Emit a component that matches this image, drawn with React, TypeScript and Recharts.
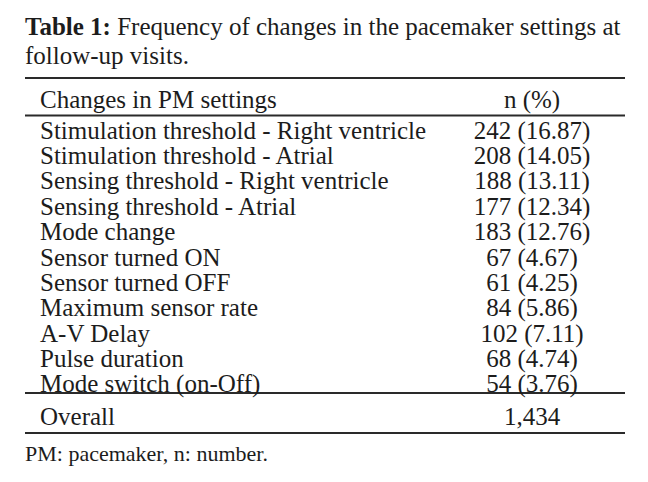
import React from "react";
import { BarChart, Bar, XAxis, YAxis, Customized } from "recharts";

const titleBold = "Table 1:";
const titleLines = [" Frequency of changes in the pacemaker settings at", "follow-up visits."];
const headerLabels = ["Changes in PM settings", "n (%)"];
const settings = [
  "Stimulation threshold - Right ventricle",
  "Stimulation threshold - Atrial",
  "Sensing threshold - Right ventricle",
  "Sensing threshold - Atrial",
  "Mode change",
  "Sensor turned ON",
  "Sensor turned OFF",
  "Maximum sensor rate",
  "A-V Delay",
  "Pulse duration",
  "Mode switch (on-Off)",
];
const counts = [242, 208, 188, 177, 183, 67, 61, 84, 102, 68, 54];
const percents = ["16.87", "14.05", "13.11", "12.34", "12.76", "4.67", "4.25", "5.86", "7.11", "4.74", "3.76"];
const overallLabel = "Overall";
const overallValue = "1,434";
const footnote = "PM: pacemaker, n: number.";

const rows = settings.map((s, i) => ({ setting: s, n: counts[i], pct: percents[i] }));

const W = 648;
const H = 482;
const TOP = 118;
const BOTTOM_EDGE = 397;
const FONT = "Liberation Serif";
const COLOR = "#1c1c1c";
const RULE = "#2a2a2a";
const LEFT = 25;
const RIGHT = 625;
const TEXT_X = 40;
const VAL_X = 532;
const FS = 25;

const txt = (size: number, extra: any = {}) => ({
  style: { fontFamily: FONT, fontSize: size },
  fill: COLOR,
  ...extra,
});

const RowTick = (props: any) => {
  const { y, payload, index } = props;
  const r = rows[index] || rows.find((d) => d.setting === payload.value);
  return (
    <g>
      <text x={TEXT_X} y={y} dy={8} {...txt(FS)} textAnchor="start">
        {payload.value}
      </text>
      {r && (
        <text x={VAL_X} y={y} dy={8} {...txt(FS)} textAnchor="middle">
          {`${r.n} (${r.pct})`}
        </text>
      )}
    </g>
  );
};

const Decor = () => (
  <g>
    <text x={LEFT} y={35} {...txt(25)}>
      <tspan fontWeight="bold">{titleBold}</tspan>
      <tspan>{titleLines[0]}</tspan>
    </text>
    <text x={LEFT} y={64} {...txt(25)}>{titleLines[1]}</text>
    <line x1={LEFT} x2={RIGHT} y1={78} y2={78} stroke={RULE} strokeWidth={2} />
    <text x={TEXT_X} y={108} {...txt(FS)}>{headerLabels[0]}</text>
    <text x={VAL_X} y={108} {...txt(FS)} textAnchor="middle">{headerLabels[1]}</text>
    <line x1={LEFT} x2={RIGHT} y1={115.5} y2={115.5} stroke={RULE} strokeWidth={2} />
    <line x1={LEFT} x2={RIGHT} y1={393} y2={393} stroke={RULE} strokeWidth={2} />
    <text x={TEXT_X} y={425} {...txt(FS)}>{overallLabel}</text>
    <text x={VAL_X} y={425} {...txt(FS)} textAnchor="middle">{overallValue}</text>
    <line x1={LEFT} x2={RIGHT} y1={433} y2={433} stroke={RULE} strokeWidth={2} />
    <text x={LEFT} y={461} {...txt(22)}>{footnote}</text>
  </g>
);

export default function App() {
  return (
    <div style={{ width: W, height: H, background: "#fff", position: "absolute", left: 0, top: 0 }}>
      <BarChart
        width={W}
        height={H}
        data={rows}
        layout="vertical"
        margin={{ top: TOP, bottom: H - BOTTOM_EDGE, left: 0, right: 0 }}
      >
        <XAxis type="number" hide />
        <YAxis
          type="category"
          dataKey="setting"
          width={10}
          axisLine={false}
          tickLine={false}
          interval={0}
          tick={<RowTick />}
        />
        <Bar dataKey="n" fill="transparent" isAnimationActive={false} />
        <Customized component={Decor} />
      </BarChart>
    </div>
  );
}
